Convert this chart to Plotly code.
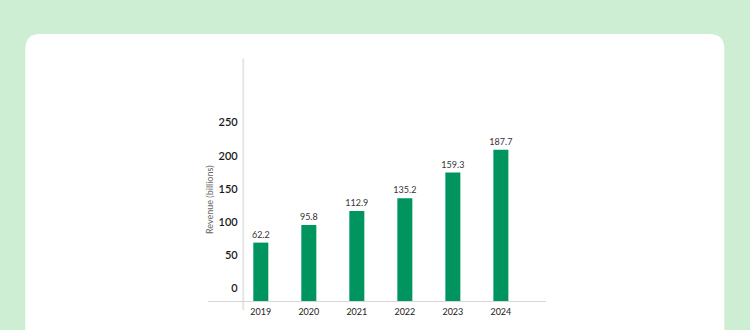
import plotly.graph_objects as go

# ---- data ----
years = ["2019", "2020", "2021", "2022", "2023", "2024"]
bar_heights = [72.9, 95.0, 112.5, 128.4, 160.4, 188.7]   # drawn bar heights (bar axis units)
bar_labels = ["62.2", "95.8", "112.9", "135.2", "159.3", "187.7"]
tick_values = [0, 50, 100, 150, 200, 250]
tick_labels = ["0", "50", "100", "150", "200", "250"]

W, H = 750, 330
ML, MR, MT, MB = 208, 204, 58, 29
PW, PH = W - ML - MR, H - MT - MB

def px_x(p):
    return (p - ML) / PW

def px_y(p):
    return (H - MB - p) / PH

# rounded white card path in paper coords
def card_path(x0, y0, x1, y1, r):
    pts = []
    pts.append(f"M {px_x(x0)},{px_y(y1)}")
    pts.append(f"L {px_x(x0)},{px_y(y0 + r)}")
    pts.append(f"Q {px_x(x0)},{px_y(y0)} {px_x(x0 + r)},{px_y(y0)}")
    pts.append(f"L {px_x(x1 - r)},{px_y(y0)}")
    pts.append(f"Q {px_x(x1)},{px_y(y0)} {px_x(x1)},{px_y(y0 + r)}")
    pts.append(f"L {px_x(x1)},{px_y(y1)} Z")
    return " ".join(pts)

FONT = "Lato"
xpos = list(range(len(years)))

fig = go.Figure()
fig.add_trace(go.Bar(
    x=xpos, y=bar_heights, width=0.3125,
    marker=dict(color="#00955f", line=dict(width=0)),
    text=bar_labels, textposition="outside", cliponaxis=False,
    constraintext="none",
    textfont=dict(family=FONT, size=9, color="#333333"),
    hoverinfo="skip", yaxis="y",
))
fig.add_trace(go.Scatter(x=[], y=[], yaxis="y2", showlegend=False))

fig.update_layout(
    width=W, height=H, autosize=False,
    margin=dict(l=ML, r=MR, t=MT, b=MB, pad=0),
    paper_bgcolor="#cdeed2", plot_bgcolor="rgba(0,0,0,0)",
    showlegend=False,
    font=dict(family=FONT),
    xaxis=dict(
        range=[-1.1, 5.94], tickvals=xpos, ticktext=years,
        showgrid=False, zeroline=False, showline=True,
        linecolor="#d6d6d6", linewidth=1, ticks="",
        tickfont=dict(family=FONT, size=9, color="#222222"),
        ticklabelstandoff=2,
        fixedrange=True,
    ),
    yaxis=dict(
        range=[0, 303.4], visible=False, fixedrange=True,
    ),
    yaxis2=dict(
        overlaying="y", anchor="free", position=px_x(242.7), side="left",
        range=[-19.2, 347.4], tickvals=tick_values, ticktext=tick_labels,
        showgrid=False, zeroline=False, showline=False, ticks="",
        tickfont=dict(family=FONT, size=11, color="#1a1a1a", weight=600),
        ticklabelstandoff=5,
        fixedrange=True,
    ),
    shapes=[
        dict(type="path", xref="paper", yref="paper",
             path=card_path(25.3, 34, 724.3, 360, 15),
             fillcolor="white", line=dict(width=0), layer="below"),
        dict(type="line", xref="paper", yref="paper",
             x0=px_x(243.2), x1=px_x(243.2), y0=px_y(58.3), y1=px_y(310),
             line=dict(color="#e6e6e6", width=2), layer="below"),
    ],
    annotations=[
        dict(text="Revenue (billions)", xref="paper", yref="paper",
             x=px_x(209), y=px_y(200), textangle=-90, showarrow=False,
             font=dict(family=FONT, size=9, color="#666666"),
             xanchor="center", yanchor="middle"),
    ],
)

fig.write_html("out.html")
